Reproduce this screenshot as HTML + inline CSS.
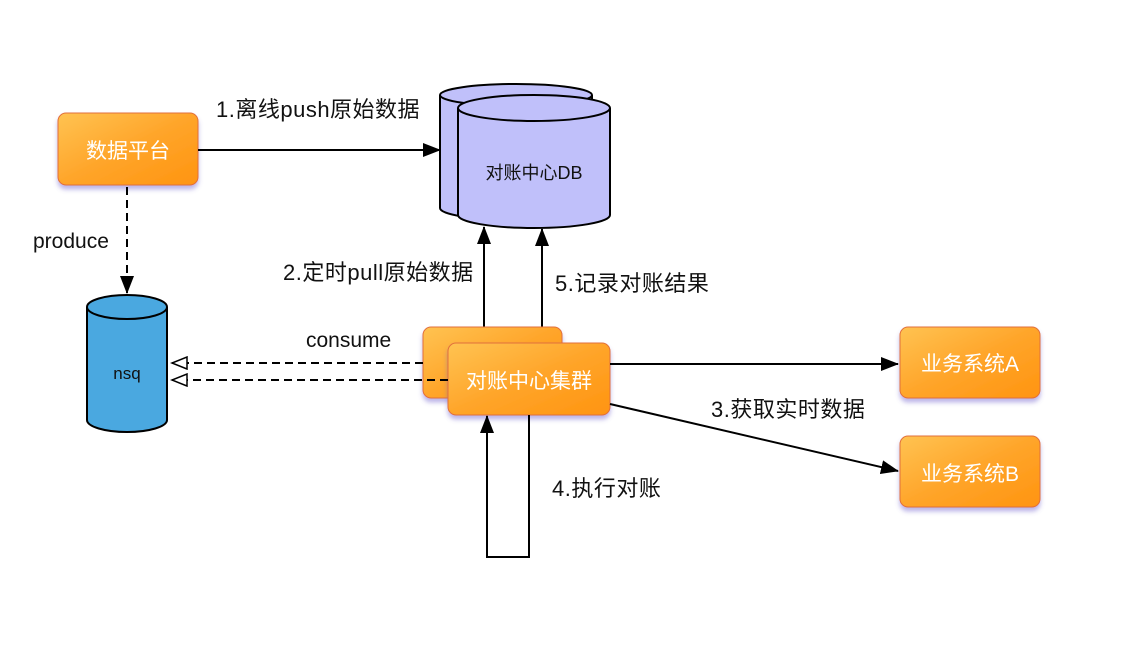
<!DOCTYPE html>
<html><head><meta charset="utf-8"><style>
html,body{margin:0;padding:0;background:#fff;}
svg{display:block;}
text{font-family:"Liberation Sans","Noto Sans CJK SC",sans-serif;}
</style></head><body>
<svg width="1146" height="656" viewBox="0 0 1146 656" xmlns="http://www.w3.org/2000/svg">
<defs>
<linearGradient id="og" x1="0" y1="0" x2="1" y2="1">
<stop offset="0" stop-color="#ffc352"/><stop offset="0.5" stop-color="#ffa52a"/><stop offset="1" stop-color="#ff9410"/>
</linearGradient>
<filter id="sh" x="-20%" y="-20%" width="140%" height="150%">
<feDropShadow dx="0" dy="4" stdDeviation="2.5" flood-color="#6a5acd" flood-opacity="0.45"/>
</filter>
<marker id="ar" markerWidth="18" markerHeight="14" refX="17" refY="7" orient="auto" markerUnits="userSpaceOnUse">
<path d="M0,0 L18,7 L0,14 z" fill="#000"/></marker>
<marker id="ho" markerWidth="18" markerHeight="14" refX="16" refY="7" orient="auto" markerUnits="userSpaceOnUse">
<path d="M1,1 L16,7 L1,13 z" fill="#fff" stroke="#000" stroke-width="1.5"/></marker>
</defs>

<rect x="58" y="113" width="140" height="72" rx="8" fill="url(#og)" stroke="#e2703a" stroke-width="1" filter="url(#sh)"/>
<text x="128" y="158" font-size="21" fill="#fff" text-anchor="middle">数据平台</text>

<path d="M440,95 L440,208 A76,12 0 0 0 592,208 L592,95" fill="#c0c0fa" stroke="#000" stroke-width="2"/>
<ellipse cx="516" cy="95" rx="76" ry="11" fill="#c0c0fa" stroke="#000" stroke-width="2"/>
<path d="M458,108 L458,215 A76,13 0 0 0 610,215 L610,108" fill="#c0c0fa" stroke="#000" stroke-width="2"/>
<ellipse cx="534" cy="108" rx="76" ry="13" fill="#c0c0fa" stroke="#000" stroke-width="2"/>
<text x="534" y="179" font-size="18" fill="#111" text-anchor="middle">对账中心DB</text>

<line x1="198" y1="150" x2="440" y2="150" stroke="#000" stroke-width="2" marker-end="url(#ar)"/>
<text x="216" y="117" font-size="22" fill="#111" letter-spacing="0.5">1.离线push原始数据</text>

<line x1="127" y1="187" x2="127" y2="293" stroke="#000" stroke-width="2" stroke-dasharray="8,5" marker-end="url(#ar)"/>
<text x="33" y="248" font-size="21" fill="#111">produce</text>

<path d="M87,307 L87,420 A40,12 0 0 0 167,420 L167,307" fill="#4aa8e0" stroke="#000" stroke-width="2"/>
<ellipse cx="127" cy="307" rx="40" ry="12" fill="#4aa8e0" stroke="#000" stroke-width="2"/>
<text x="127" y="379" font-size="17" fill="#111" text-anchor="middle">nsq</text>

<line x1="484" y1="327" x2="484" y2="227" stroke="#000" stroke-width="2" marker-end="url(#ar)"/>
<line x1="542" y1="327" x2="542" y2="229" stroke="#000" stroke-width="2" marker-end="url(#ar)"/>
<text x="283" y="280" font-size="22" fill="#111" letter-spacing="0.5">2.定时pull原始数据</text>
<text x="555" y="291" font-size="22" fill="#111" letter-spacing="0.5">5.记录对账结果</text>

<rect x="423" y="327" width="139" height="71" rx="8" fill="url(#og)" stroke="#e2703a" stroke-width="1" filter="url(#sh)"/>
<rect x="448" y="343" width="162" height="72" rx="8" fill="url(#og)" stroke="#e2703a" stroke-width="1" filter="url(#sh)"/>
<text x="529" y="388" font-size="21" fill="#fff" text-anchor="middle">对账中心集群</text>

<line x1="423" y1="363" x2="172" y2="363" stroke="#000" stroke-width="2" stroke-dasharray="8,5" marker-end="url(#ho)"/>
<line x1="448" y1="380" x2="172" y2="380" stroke="#000" stroke-width="2" stroke-dasharray="8,5" marker-end="url(#ho)"/>
<text x="306" y="347" font-size="21" fill="#111">consume</text>

<rect x="900" y="327" width="140" height="71" rx="8" fill="url(#og)" stroke="#e2703a" stroke-width="1" filter="url(#sh)"/>
<text x="970" y="371" font-size="21" fill="#fff" text-anchor="middle">业务系统A</text>
<rect x="900" y="436" width="140" height="71" rx="8" fill="url(#og)" stroke="#e2703a" stroke-width="1" filter="url(#sh)"/>
<text x="970" y="481" font-size="21" fill="#fff" text-anchor="middle">业务系统B</text>

<line x1="610" y1="364" x2="898" y2="364" stroke="#000" stroke-width="2" marker-end="url(#ar)"/>
<line x1="610" y1="404" x2="898" y2="471" stroke="#000" stroke-width="2" marker-end="url(#ar)"/>
<text x="711" y="417" font-size="22" fill="#111" letter-spacing="0.5">3.获取实时数据</text>

<polyline points="529,415 529,557 487,557 487,416" fill="none" stroke="#000" stroke-width="2" marker-end="url(#ar)"/>
<text x="552" y="496" font-size="22" fill="#111" letter-spacing="0.5">4.执行对账</text>
</svg>
</body></html>
